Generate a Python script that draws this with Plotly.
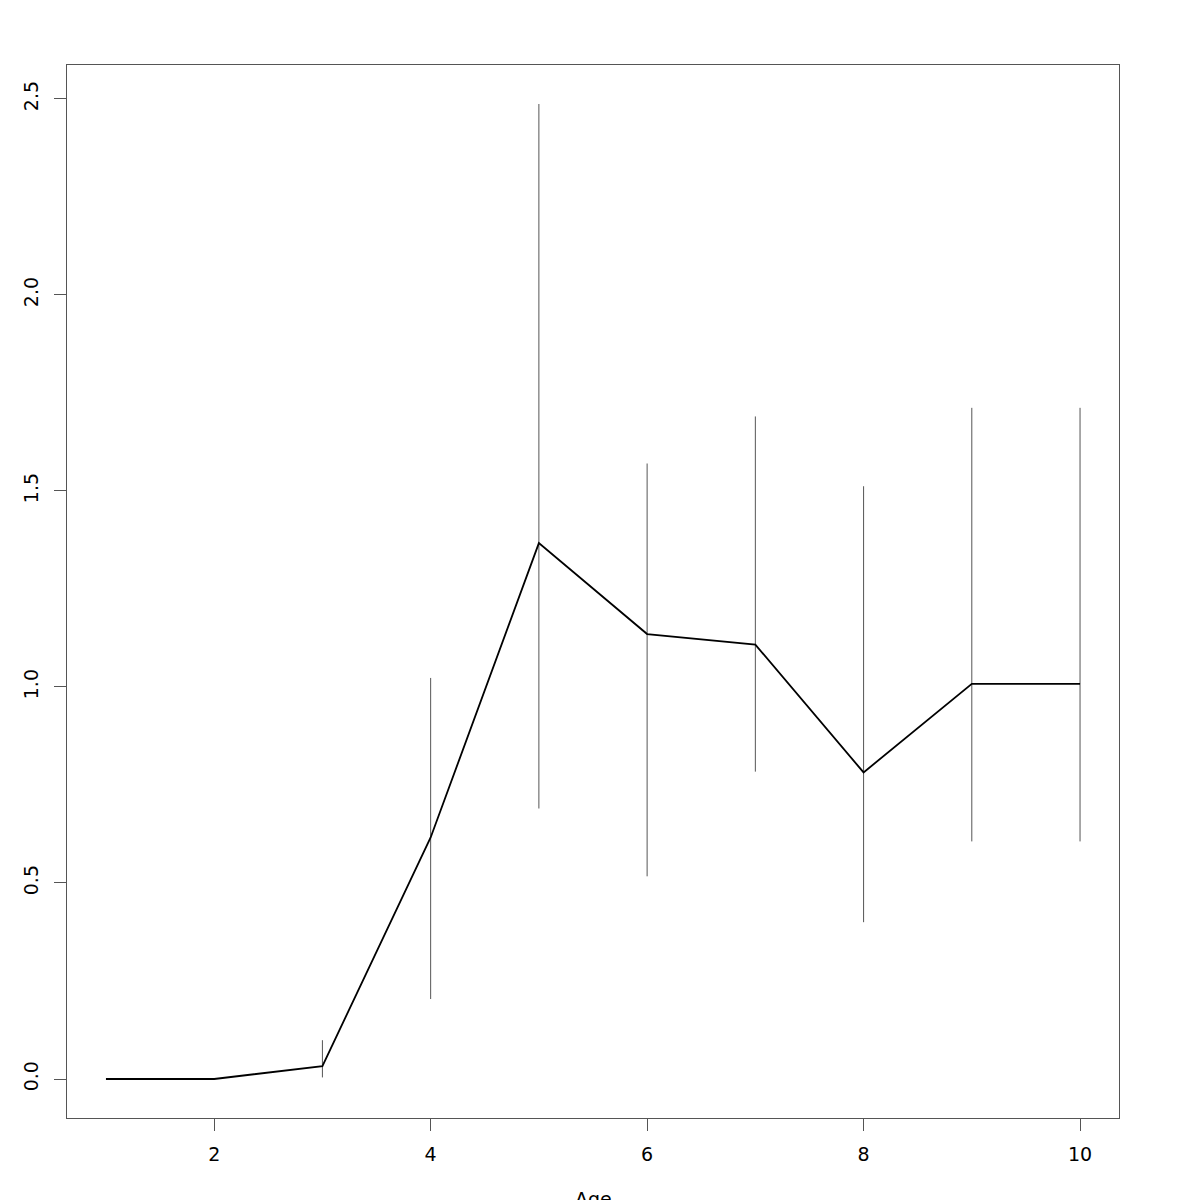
import plotly.graph_objects as go

age = [1, 2, 3, 4, 5, 6, 7, 8, 9, 10]
mean_val = [0.0, 0.0, 0.033, 0.616, 1.367, 1.135, 1.108, 0.782, 1.008, 1.008]
upper = [0.0, 0.0, 0.099, 1.023, 2.487, 1.570, 1.690, 1.512, 1.712, 1.712]
lower = [0.0, 0.0, 0.004, 0.204, 0.690, 0.517, 0.784, 0.400, 0.606, 0.606]

x_ticks = [2, 4, 6, 8, 10]
y_ticks = [0.0, 0.5, 1.0, 1.5, 2.0, 2.5]
y_tick_text = ["0.0", "0.5", "1.0", "1.5", "2.0", "2.5"]

err_plus = [u - m for u, m in zip(upper, mean_val)]
err_minus = [m - l for m, l in zip(mean_val, lower)]

fig = go.Figure()
fig.add_trace(go.Scatter(
    x=age, y=mean_val, mode="markers",
    marker=dict(size=0.1, color="rgba(0,0,0,0)"),
    error_y=dict(type="data", symmetric=False, array=err_plus, arrayminus=err_minus,
                 width=0, thickness=1, color="#555555"),
    showlegend=False, hoverinfo="skip"))
fig.add_trace(go.Scatter(
    x=age, y=mean_val, mode="lines",
    line=dict(color="black", width=1.8),
    showlegend=False))

ymax = max(upper)
ypad = 0.04 * ymax
fig.update_layout(
    width=1200, height=1200,
    margin=dict(l=57, r=89, t=57, b=90),
    plot_bgcolor="white", paper_bgcolor="white",
    font=dict(family="DejaVu Sans", size=19, color="black"),
    xaxis=dict(range=[1 - 0.36, 10 + 0.36], tickvals=x_ticks, showgrid=False, zeroline=False,
               showline=True, mirror=True, linecolor="#555555", linewidth=1,
               ticks="outside", ticklen=12, tickcolor="#555555", ticklabelstandoff=7),
    yaxis=dict(range=[-ypad, ymax + ypad], tickvals=y_ticks, ticktext=y_tick_text,
               tickangle=-90, showgrid=False, zeroline=False,
               showline=True, mirror=True, linecolor="#555555", linewidth=1,
               ticks="outside", ticklen=12, tickcolor="#555555", ticklabelstandoff=8),
    annotations=[dict(text="Age", xref="paper", yref="paper", x=0.5, y=-0.077,
                      xanchor="center", yanchor="middle", showarrow=False,
                      font=dict(family="DejaVu Sans", size=19))],
)
fig.write_html("out.html")
